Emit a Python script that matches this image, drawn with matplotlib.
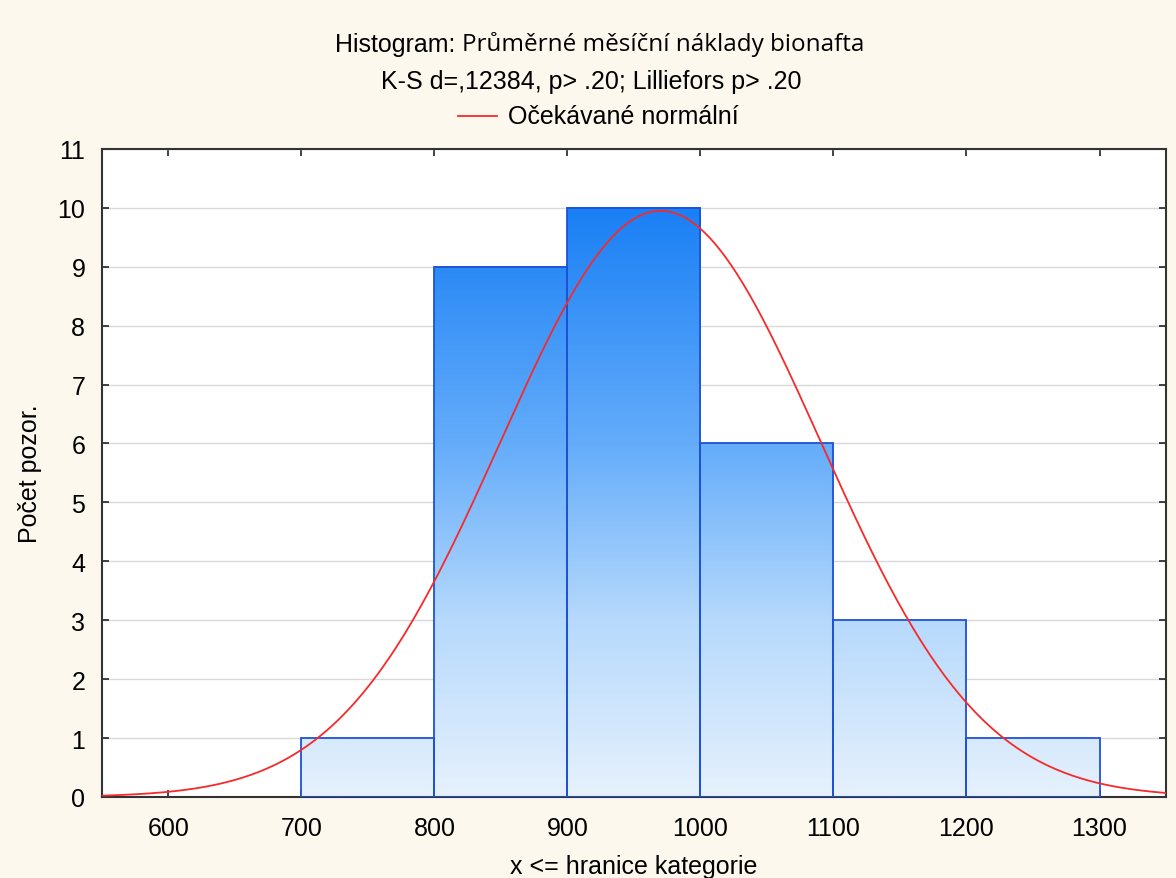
import matplotlib
matplotlib.use("agg")
import matplotlib.pyplot as plt
import numpy as np
from matplotlib.colors import LinearSegmentedColormap

# Histogram data: upper bin edges and counts
bin_edges = [700, 800, 900, 1000, 1100, 1200, 1300]
counts = [1, 9, 10, 6, 3, 1]

# Fitted normal (expected) parameters
mean_cost = 970.0
sd_cost = 120.3
n_obs = sum(counts)
bin_width = 100

x_ticks = [600, 700, 800, 900, 1000, 1100, 1200, 1300]
y_ticks = list(range(0, 12))

bg = "#fcf8ee"
fs = 18
fig = plt.figure(figsize=(11.76, 8.79), dpi=100, facecolor=bg)
ax = fig.add_axes([0.0867, 0.0922, 0.9048, 0.7373])
ax.set_facecolor("white")

cmap = LinearSegmentedColormap.from_list(
    "blues", [(0.0, "#e6f1fd"), (0.3, "#b6d9fc"), (0.6, "#64acfa"), (1.0, "#1a80f5")])

for x0, x1, c in zip(bin_edges[:-1], bin_edges[1:], counts):
    grad = np.linspace(0, c, 200).reshape(-1, 1)
    ax.imshow(grad, cmap=cmap, vmin=0, vmax=10, origin="lower",
              extent=(x0, x1, 0, c), aspect="auto", zorder=2)
    ax.bar(x0, c, width=x1 - x0, align="edge", facecolor="none",
           edgecolor="#1e52d6", linewidth=1.3, zorder=3)

xs = np.linspace(550, 1350, 400)
ys = n_obs * bin_width * np.exp(-0.5 * ((xs - mean_cost) / sd_cost) ** 2) / (sd_cost * np.sqrt(2 * np.pi))
ax.plot(xs, ys, color="#f52a2a", linewidth=1.3, zorder=4)

ax.set_xlim(550, 1350)
ax.set_ylim(0, 11)
ax.set_xticks(x_ticks)
ax.set_yticks(y_ticks)
ax.yaxis.grid(True, color="#d9d9d9", linewidth=1.0, zorder=0)
ax.set_axisbelow(True)
ax.tick_params(direction="in", length=5, width=1.2, top=True, right=True,
               labelsize=fs, colors="#222222", labelcolor="black")
ax.tick_params(axis="x", pad=14)
ax.tick_params(axis="y", pad=12)
for lab in ax.get_xticklabels() + ax.get_yticklabels():
    lab.set_family("Liberation Sans")
for sp in ax.spines.values():
    sp.set_color("#333333")
    sp.set_linewidth(1.5)

ax.set_xlabel("x <= hranice kategorie", fontsize=fs, family="Liberation Sans", va="center")
ax.xaxis.set_label_coords(0.5, -0.106)
ax.set_ylabel("Počet pozor.", fontsize=fs, family="Liberation Sans", va="center")
ax.yaxis.set_label_coords(-0.0675, 0.5)

# Title lines: "Histogram:" and the variable name use different faces
t1 = fig.text(0, 0.949, "Histogram:", fontsize=fs, family="Liberation Sans", ha="left", va="center")
t2 = fig.text(0, 0.949, "Průměrné měsíční náklady bionafta", fontsize=17.5, family="Open Sans",
              ha="left", va="center")
fig.canvas.draw()
r = fig.canvas.get_renderer()
w1 = t1.get_window_extent(r).width
w2 = t2.get_window_extent(r).width
gap = 7
start = 600 - (w1 + gap + w2) / 2
t1.set_x(start / 1176)
t2.set_x((start + w1 + gap) / 1176)

fig.text(0.503, 0.907, "K-S d=,12384, p> .20; Lilliefors p> .20", fontsize=fs,
         family="Liberation Sans", ha="center", va="center")
fig.lines.append(plt.Line2D([458 / 1176, 497 / 1176], [0.867, 0.867], transform=fig.transFigure,
                            color="#f52a2a", linewidth=1.3))
fig.text(508 / 1176, 0.867, "Očekávané normální", fontsize=fs, family="Liberation Sans",
         ha="left", va="center")

fig.savefig("out.png", dpi=100, facecolor=bg)
